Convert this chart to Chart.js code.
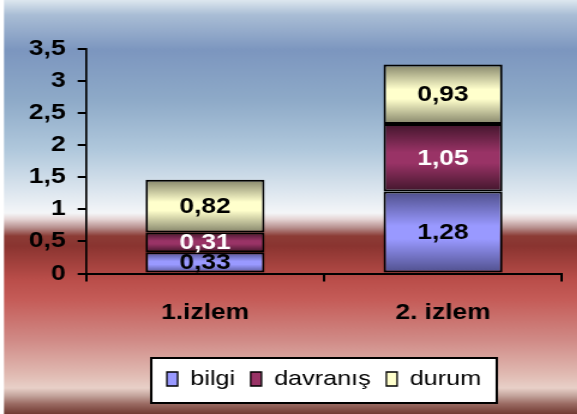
<!DOCTYPE html>
<html>
<head>
<meta charset="utf-8">
<script src="https://cdn.jsdelivr.net/npm/chart.js@4.4.0/dist/chart.umd.min.js"></script>
<style>
  html, body { margin: 0; padding: 0; background: #fff; overflow: hidden; }
  /* the original picture is stretched sideways, so the canvas is too */
  #chart { display: block; transform: scaleX(1.2); transform-origin: 0 0; }
</style>
</head>
<body>
<canvas id="chart" width="481" height="414"></canvas>
<script>
// Data
const categories = ['1.izlem', '2. izlem'];
const seriesNames = ['bilgi', 'davranış', 'durum'];
const bilgi = [0.33, 1.28];
const davranis = [0.31, 1.05];
const durum = [0.82, 0.93];
const yTicks = [0, 0.5, 1, 1.5, 2, 2.5, 3, 3.5];

const FONT = '"Liberation Sans", Arial, sans-serif';
const lightColors = ['#9999ff', '#993366', '#ffffcc'];
const darkColors = ['#4e4e8a', '#42162c', '#85856a'];
const labelColors = ['#000', '#fff', '#000'];

const fmt = v => String(v).replace('.', ',');

// vertical banded fill: dark edges, light middle
function barFill(light, dark) {
  return function (c) {
    if (c.type !== 'data') return light;
    const chart = c.chart;
    const y = chart.scales.y;
    if (!y) return light;
    let start = 0;
    for (let d = 0; d < c.datasetIndex; d++) start += chart.data.datasets[d].data[c.dataIndex];
    const top = y.getPixelForValue(start + c.raw);
    const bottom = y.getPixelForValue(start);
    if (!isFinite(top) || !isFinite(bottom) || top === bottom) return light;
    const g = chart.ctx.createLinearGradient(0, top, 0, bottom);
    g.addColorStop(0, dark);
    g.addColorStop(0.42, light);
    g.addColorStop(0.58, light);
    g.addColorStop(1, dark);
    return g;
  };
}

// Background and legend frame
const backdrop = {
  id: 'backdrop',
  beforeDraw(chart) {
    const { ctx, width, height } = chart;
    const stops = [
      [0, '#dde7ef'], [15, '#a9bdd5'], [50, '#7c96bf'], [100, '#8eaac8'],
      [150, '#b0c8dc'], [190, '#dbe5ee'], [213, '#f4f6f8'], [219, '#e6d6d6'],
      [228, '#b58d8b'], [236, '#8c3c36'], [246, '#8a3430'], [280, '#ba4e4a'],
      [300, '#c55c58'], [340, '#d08a86'], [375, '#e1bbb3'], [388, '#e8d0c8'],
      [396, '#c2a29a'], [404, '#9a6a62'], [414, '#703a32']
    ];
    ctx.save();
    const g = ctx.createLinearGradient(0, 0, 0, height);
    stops.forEach(([p, c]) => g.addColorStop(p / 414, c));
    ctx.fillStyle = g;
    ctx.fillRect(0, 0, width, height);
    ctx.fillStyle = '#fff';
    ctx.fillRect(0, 0, 3.3, height);

    const lg = chart.legend;
    if (lg && lg.lineWidths) {
      const pad = lg.options.labels.padding;
      const lw = lg.lineWidths[0];
      const startX = (lg.left + pad + lg.right - lw) / 2;
      const endX = startX + lw - pad;
      const x0 = startX - 13, x1 = endX + 13;
      const y0 = lg.top + 2.5, y1 = lg.top + 47.5;
      ctx.fillStyle = '#fff';
      ctx.fillRect(x0, y0, x1 - x0, y1 - y0);
      ctx.strokeStyle = '#000';
      ctx.lineWidth = 2;
      ctx.strokeRect(x0, y0, x1 - x0, y1 - y0);
    }
    ctx.restore();
  }
};

// Value labels in the middle of each segment
const valueLabels = {
  id: 'valueLabels',
  afterDatasetsDraw(chart) {
    const ctx = chart.ctx;
    ctx.save();
    ctx.font = 'bold 22px ' + FONT;
    ctx.textAlign = 'center';
    ctx.textBaseline = 'middle';
    chart.data.datasets.forEach((ds, i) => {
      ctx.fillStyle = labelColors[i];
      chart.getDatasetMeta(i).data.forEach((bar, j) => {
        ctx.fillText(ds.data[j].toFixed(2).replace('.', ','), bar.x, (bar.y + bar.base) / 2 + 1);
      });
    });
    ctx.restore();
  }
};

const ctx = document.getElementById('chart').getContext('2d');
new Chart(ctx, {
  type: 'bar',
  data: {
    labels: categories,
    datasets: [bilgi, davranis, durum].map((values, i) => ({
      label: seriesNames[i],
      data: values,
      backgroundColor: barFill(lightColors[i], darkColors[i]),
      borderColor: '#000',
      borderWidth: 2,
      borderSkipped: false
    }))
  },
  options: {
    responsive: false,
    devicePixelRatio: 1,
    animation: false,
    barPercentage: 0.5,
    categoryPercentage: 1,
    layout: { padding: { left: 0, right: 12.7, top: 49, bottom: 14.5 } },
    plugins: {
      tooltip: { enabled: false },
      legend: {
        position: 'bottom',
        fullSize: false,
        labels: {
          boxWidth: 9,
          boxHeight: 14,
          padding: 13,
          color: '#000',
          font: { family: FONT, size: 21 },
          generateLabels(chart) {
            return Chart.defaults.plugins.legend.labels.generateLabels(chart)
              .map((item, i) => Object.assign(item, { fillStyle: lightColors[i], lineWidth: 1.3 }));
          }
        }
      }
    },
    scales: {
      x: {
        stacked: true,
        border: { color: '#000', width: 2 },
        grid: { drawOnChartArea: false, color: '#000', tickColor: '#000', lineWidth: 2, tickLength: 8, offset: true },
        ticks: { color: '#000', font: { family: FONT, size: 22, weight: 'bold' }, padding: 18 },
        afterFit(s) { s.height = 82; }
      },
      y: {
        stacked: true,
        min: yTicks[0],
        max: yTicks[yTicks.length - 1],
        border: { color: '#000', width: 1.7 },
        grid: { drawOnChartArea: false, color: '#000', tickColor: '#000', lineWidth: 2, tickLength: 7 },
        ticks: {
          stepSize: yTicks[1] - yTicks[0],
          color: '#000',
          padding: 10,
          font: { family: FONT, size: 22, weight: 'bold' },
          callback: v => fmt(v)
        },
        afterFit(s) { s.width = 71.7; }
      }
    }
  },
  plugins: [backdrop, valueLabels]
});
</script>
</body>
</html>
